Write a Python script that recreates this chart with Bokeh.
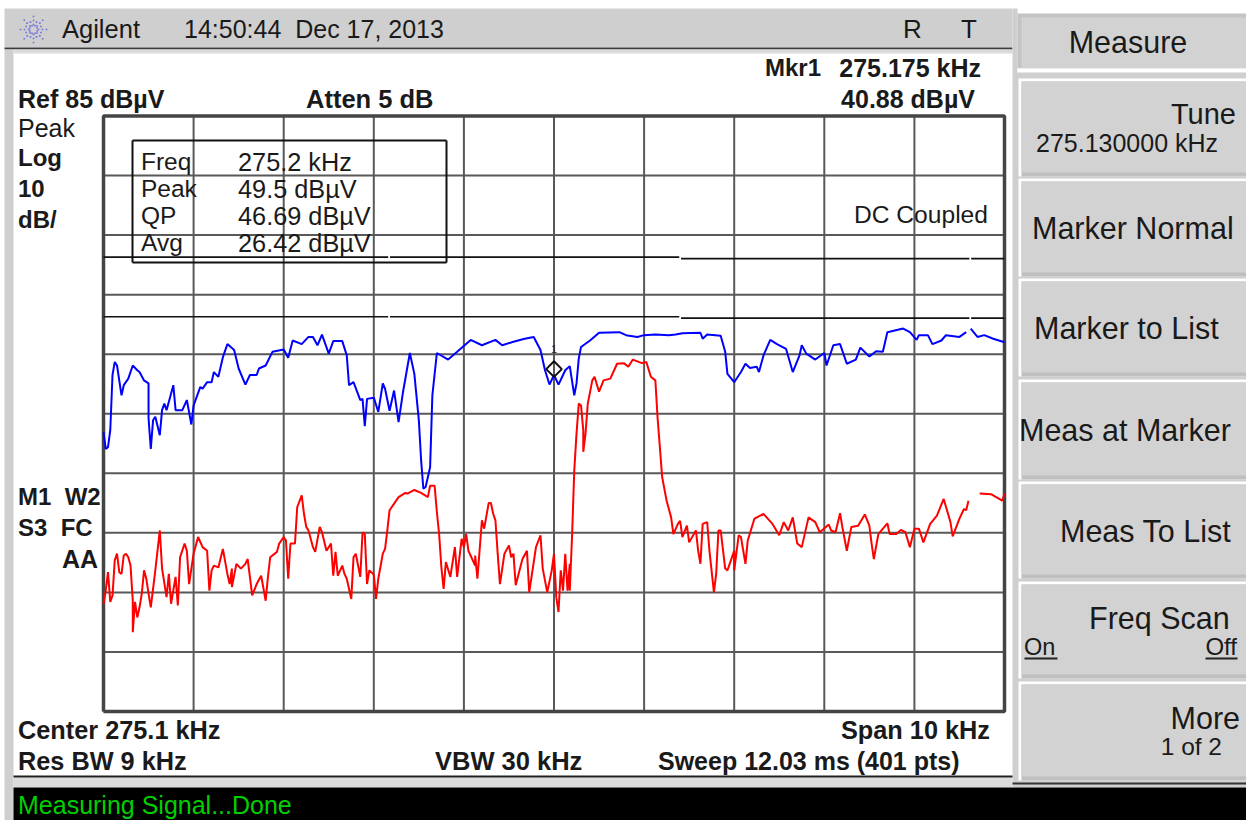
from bokeh.plotting import figure
from bokeh.embed import file_html
from bokeh.resources import INLINE
from bokeh.models import Range1d
from bokeh.core.properties import value
import math

# ---- instrument settings
center_khz = 275.1
span_khz = 10.0
ref_db = 85.0
db_per_div = 10.0
n_pts = 401
freq_ticks = [270.1, 271.1, 272.1, 273.1, 274.1, 275.1, 276.1, 277.1, 278.1, 279.1, 280.1]
db_ticks = [85, 75, 65, 55, 45, 35, 25, 15, 5, -5, -15]

# ---- peak trace (blue): sweep point index and dBuV
blue_pts = [0,1,2,3,4,5,6,8,9,11,13,15,16,18,20,20,21,22,23,25,26,27,28,31,32,35,37,39,40,43,44,46,48,49,51,53,55,58,60,63,65,68,69,72,75,80,82,84,88,91,93,95,97,100,102,106,108,109,111,114,115,116,117,120,122,124,125,127,129,131,133,136,138,140,141,142,143,145,146,148,153,157,163,168,174,177,182,187,191,194,196,198,
            200,202,205,207,209,210,211,212,216,220,229,232,237,240,245,251,254,257,265,266,268,274,276,277,280,283,285,287,290,291,293,296,299,303,306,309,310,312,316,320,321,324,327,330,334,336,340,343,346,348,355,358,361,362,366,368,372,374,380,383,384,385,388,391,395,400]
blue_db = [31.9,29.1,29.4,32.2,41.5,43.7,43.1,38.1,39.8,40.9,43.1,42.3,42.0,40.6,40.1,34.2,29.1,33.9,34.5,31.4,35.6,36.7,35.6,39.8,35.6,35.6,37.3,33.2,36.4,39.5,39.2,40.3,40.3,42.0,41.2,44.5,46.7,45.7,42.6,39.9,41.5,41.5,42.6,43.1,45.4,45.8,44.4,47.3,46.7,47.9,47.9,46.5,48.3,45.1,47.2,47.2,44.8,39.8,40.3,37.3,37.5,32.9,37.5,37.7,35.3,40.1,39.2,35.5,38.9,33.6,38.7,45.2,41.7,33.9,27.2,22.4,22.7,26.0,38.1,45.2,44.1,45.4,47.4,46.5,47.4,46.5,47.1,47.6,47.9,45.7,42.3,39.9,
           41.5,39.9,42.3,43.0,38.1,40.1,44.3,46.2,47.3,48.6,48.7,48.2,47.9,48.2,48.3,48.2,48.3,48.5,48.6,47.6,48.3,48.1,45.4,41.7,40.3,42.0,43.4,42.7,42.9,42.0,44.8,47.4,46.7,45.9,42.0,44.8,46.5,45.1,44.1,45.2,43.1,46.5,46.7,43.4,44.1,46.1,44.6,45.5,45.4,48.7,49.3,48.7,47.4,48.2,48.2,46.7,47.3,48.2,47.9,48.7,math.nan,49.3,47.9,48.2,47.6,47.0]

# ---- average trace (red): sweep point index and dBuV
red_pts = [0,1,2,3,4,5,6,7,8,9,10,11,12,13,13,14,15,16,17,18,19,20,21,23,25,26,28,29,30,32,33,34,36,37,38,40,42,44,46,47,48,49,51,53,55,56,57,57,59,61,63,64,65,66,68,70,72,73,74,77,78,80,81,82,83,85,86,88,89,90,91,93,94,96,97,99,101,102,103,104,106,107,108,110,111,112,114,115,116,117,118,120,121,122,124,125,126,127,131,134,135,138,141,144,145,147,148,149,150,151,152,154,156,157,159,160,161,162,165,165,166,168,169,171,172,173,174,175,176,178,180,181,182,183,186,188,189,192,194,195,197,
           199,200,201,202,203,204,205,206,207,207,208,209,210,211,212,213,213,214,215,217,218,220,222,225,228,231,233,235,239,241,243,245,246,247,248,250,252,253,255,256,257,259,260,263,264,265,266,268,269,271,272,273,274,276,277,280,280,282,283,285,286,289,293,297,300,302,304,306,308,310,313,316,318,322,323,325,327,328,330,332,335,338,340,341,342,344,348,349,352,354,356,358,360,362,364,367,370,373,376,377,380,382,383,384,385,389,394,399,400]
red_db = [3.1,5.3,8.4,3.4,4.5,10.4,11.5,8.4,8.1,11.2,11.5,10.9,9.5,3.6,-1.7,3.4,0.8,2.5,4.8,8.7,7.3,4.8,2.5,8.7,15.4,9.0,4.2,8.1,3.1,7.6,2.8,10.9,13.2,12.0,6.4,11.5,14.3,12.6,12.0,5.3,8.7,9.5,9.2,12.3,8.1,6.4,9.0,5.9,9.8,9.0,9.8,10.6,7.6,4.5,6.4,7.8,3.6,7.6,10.9,11.8,13.2,14.3,13.7,7.3,13.2,13.2,19.3,21.3,18.2,16.0,15.4,12.6,11.8,16.0,15.1,12.0,13.2,7.8,11.8,7.8,9.5,8.1,7.3,3.9,10.9,11.5,7.6,15.1,14.8,6.4,8.7,8.0,3.9,7.3,11.5,12.3,15.4,18.8,21.0,21.7,21.6,22.2,21.7,21.0,22.9,22.9,18.5,14.8,9.2,5.6,10.1,7.6,12.6,7.6,14.0,12.6,14.8,12.0,9.5,11.2,7.3,17.1,15.7,20.0,20.0,18.2,17.1,11.5,6.4,11.5,12.9,10.9,11.5,6.2,10.6,12.0,5.0,12.6,14.6,9.0,5.0,8.7,
          11.5,4.2,1.7,8.7,5.3,11.5,5.3,9.8,5.3,14.3,25.5,31.7,36.7,36.4,32.2,28.6,31.7,36.7,40.6,41.2,38.7,40.6,40.9,43.4,43.5,42.9,44.1,43.5,43.7,41.2,40.6,34.2,29.4,24.4,20.4,17.6,14.8,16.5,17.0,14.3,16.2,13.4,15.4,12.0,9.8,16.5,16.8,12.0,5.0,8.1,15.4,15.4,9.0,8.7,12.0,8.7,14.6,14.3,9.8,13.7,17.4,18.2,16.5,14.6,16.8,15.4,17.6,13.2,12.6,17.6,16.8,15.1,16.4,15.4,15.1,18.3,16.0,12.0,16.0,16.2,18.1,16.2,13.2,10.6,14.8,16.6,14.8,14.8,15.5,15.1,12.6,15.7,15.7,13.4,16.5,17.9,20.7,16.8,14.4,17.4,19.0,18.8,20.4,math.nan,21.6,21.5,20.4,21.6,20.7]

# ---- display lines (black) with their small breaks
line1_khz = [270.1, 273.26, 273.27, 273.28, 276.49, 276.50, 276.51, 278.59, 278.59, 279.71, 279.72, 279.73, 280.1]
line1_db = [61.3, 61.3, math.nan, 61.3, 61.3, math.nan, 61.05, 61.05, 61.05, 61.05, math.nan, 61.05, 61.05]
line2_khz = [270.1, 273.26, 273.27, 273.28, 276.49, 276.50, 276.51, 278.59, 278.59, 279.71, 279.72, 279.73, 280.1]
line2_db = [51.3, 51.3, math.nan, 51.3, 51.3, math.nan, 51.05, 51.05, 51.05, 51.05, math.nan, 51.05, 51.05]

# ---- marker
marker_khz = [275.1]
marker_db = [42.5]

W, H = 1246, 820
L, R, T, B = 103, 1004, 115.5, 711

f_start = center_khz - span_khz / 2
khz_per_px = span_khz / (R - L)
db_per_px = 10 * db_per_div / (B - T)
p = figure(width=W, height=H, output_backend="svg", toolbar_location=None,
           x_range=Range1d(f_start - L * khz_per_px, f_start + (W - L) * khz_per_px),
           y_range=Range1d(ref_db - (H - T) * db_per_px, ref_db + T * db_per_px),
           min_border=0, margin=(0, 0, 0, 0), background_fill_color="white", border_fill_color="white",
           outline_line_color=None)
p.axis.visible = False
p.grid.visible = False
p.extra_x_ranges["px"] = Range1d(0, W)
p.extra_y_ranges["px"] = Range1d(H, 0)


def box(x0, y0, x1, y1, color):
    p.quad(left=[x0], right=[x1], top=[y0], bottom=[y1], fill_color=color, line_color=None,
           x_range_name="px", y_range_name="px")


def txt(x, y, s, size, bold=False, color="#1a1a1a", align="left"):
    p.text(x=[x - 0.5], y=[y - 1], text=[s], text_font=value("Liberation Sans"), text_font_size=value(f"{size}px"),
           text_font_style="bold" if bold else "normal", text_color=color,
           text_align=align, text_baseline="middle", x_range_name="px", y_range_name="px")


# instrument frame
box(4, 8, 1012, 47, "#cfcfcf")
box(4, 47, 1012, 49, "#3c3c3c")
box(4, 49, 13, 820, "#cfcfcf")
box(13, 49, 1012, 53, "#dcdcdc")
box(1012, 8, 1017, 787, "#cfcfcf")
box(13, 777, 1012, 787, "#dcdcdc")
box(13, 775, 1012, 777, "#202020")
box(1016, 72, 1246, 787, "#cfcfcf")
box(13, 787, 1246, 820, "#000000")
box(1012, 782, 1246, 784, "#333333")

# soft keys
box(1017, 13, 1246, 68, "#c4c4c4")
box(1021, 17, 1246, 68, "#d2d2d2")
box(1017, 68, 1246, 71, "#ffffff")
keys = [(78, 176), (178, 276), (278, 376), (379, 479), (481, 578), (581, 678), (681, 780)]
for y0, y1 in keys:
    box(1018, y0, 1246, y1, "#ffffff")
    box(1021, y0 + 3, 1246, y1, "#bfbfbf")
    box(1021, y0 + 3, 1246, y1 - 4, "#d2d2d2")

# Agilent logo
for k in range(16):
    a = k * math.pi / 8
    for r in ((5, 9, 13) if k % 2 == 0 else (4, 8)):
        cx, cy = 33 + r * math.cos(a), 29 + r * math.sin(a)
        box(cx - 0.8, cy - 0.8, cx + 0.8, cy + 0.8, "#6f6fe0")

# graticule, through the frequency and level scales
db_lo, db_hi = db_ticks[-1], db_ticks[0]
f_lo, f_hi = freq_ticks[0], freq_ticks[-1]
p.segment(x0=freq_ticks, x1=freq_ticks, y0=[db_lo] * len(freq_ticks), y1=[db_hi] * len(freq_ticks),
          line_color="#595959", line_width=2)
p.segment(x0=[f_lo] * len(db_ticks), x1=[f_hi] * len(db_ticks), y0=db_ticks, y1=db_ticks,
          line_color="#595959", line_width=2)
p.line([f_lo, f_hi, f_hi, f_lo, f_lo], [db_lo, db_lo, db_hi, db_hi, db_lo], line_color="#444444", line_width=3.5)

p.line(line1_khz, line1_db, line_color="#111111", line_width=1.6)
p.line(line2_khz, line2_db, line_color="#111111", line_width=1.6)

blue_x = [f_start + i * span_khz / (n_pts - 1) for i in blue_pts]
red_x = [f_start + i * span_khz / (n_pts - 1) for i in red_pts]
p.line(red_x, red_db, line_color="#ff0000", line_width=2)
p.line(blue_x, blue_db, line_color="#0000ff", line_width=2)
p.scatter(marker_khz, marker_db, marker="square", angle=math.pi / 4, size=11, fill_alpha=0,
          line_color="#111111", line_width=2)
p.text(x=marker_khz, y=[marker_db[0] + 3.4], text=["1"], text_font=value("Liberation Sans"),
       text_font_size=value("11px"), text_color="#222222", text_align="center", text_baseline="middle")

# title bar
txt(62, 29, "Agilent", 25.5)
txt(184, 29, "14:50:44\u00a0\u00a0Dec 17, 2013", 25)
txt(903, 29, "R", 26)
txt(961, 29, "T", 26)

# header
txt(765, 68, "Mkr1", 24, True)
txt(981, 68, "275.175 kHz", 25, True, align="right")
txt(975, 99, "40.88 dB\u00b5V", 25, True, align="right")
txt(18, 99, "Ref 85 dB\u00b5V", 25, True)
txt(306, 99, "Atten 5 dB", 25.5, True)
txt(18, 128, "Peak", 25)
txt(18, 158, "Log", 24, True)
txt(18, 189, "10", 24, True)
txt(18, 220, "dB/", 24, True)
txt(18, 497, "M1\u00a0\u00a0W2", 24, True)
txt(18, 528, "S3\u00a0\u00a0FC", 24, True)
txt(62, 559, "AA", 25, True)

# footer
txt(18, 730, "Center 275.1 kHz", 25.3, True)
txt(990, 730, "Span 10 kHz", 25.3, True, align="right")
txt(18, 761, "Res BW 9 kHz", 25.3, True)
txt(435, 761, "VBW 30 kHz", 25.5, True)
txt(658, 761, "Sweep 12.03 ms (401 pts)", 25, True)
txt(18, 805, "Measuring Signal...Done", 25, color="#00d000")

# measurement table
for y in (140, 262):
    box(132, y - 1, 446, y + 1, "#111111")
for x in (132, 446):
    box(x - 1, 140, x + 1, 262, "#111111")
rows = [("Freq", "275.2 kHz", 162), ("Peak", "49.5 dB\u00b5V", 189), ("QP", "46.69 dB\u00b5V", 216), ("Avg", "26.42 dB\u00b5V", 243)]
for a, b, y in rows:
    txt(141, y, a, 24.5)
    txt(238, y, b, 25.3)
txt(854, 215, "DC Coupled", 24.6)

# soft key texts
txt(1128, 42, "Measure", 30.5, align="center")
txt(1236, 114, "Tune", 29, align="right")
txt(1036, 143, "275.130000 kHz", 25)
txt(1032, 228, "Marker Normal", 30.5)
txt(1034, 328, "Marker to List", 30.5)
txt(1019, 430, "Meas at Marker", 30.5)
txt(1060, 531, "Meas To List", 30.5)
txt(1089, 618, "Freq Scan", 30.5)
txt(1024, 647, "On", 23.5)
txt(1237, 647, "Off", 24, align="right")
box(1024, 657, 1057, 659, "#222222")
box(1205, 657, 1237, 659, "#222222")
txt(1240, 718, "More", 30.5, align="right")
txt(1222, 747, "1 of 2", 24.5, align="right")

open("out.html", "w").write(file_html(p, INLINE))
